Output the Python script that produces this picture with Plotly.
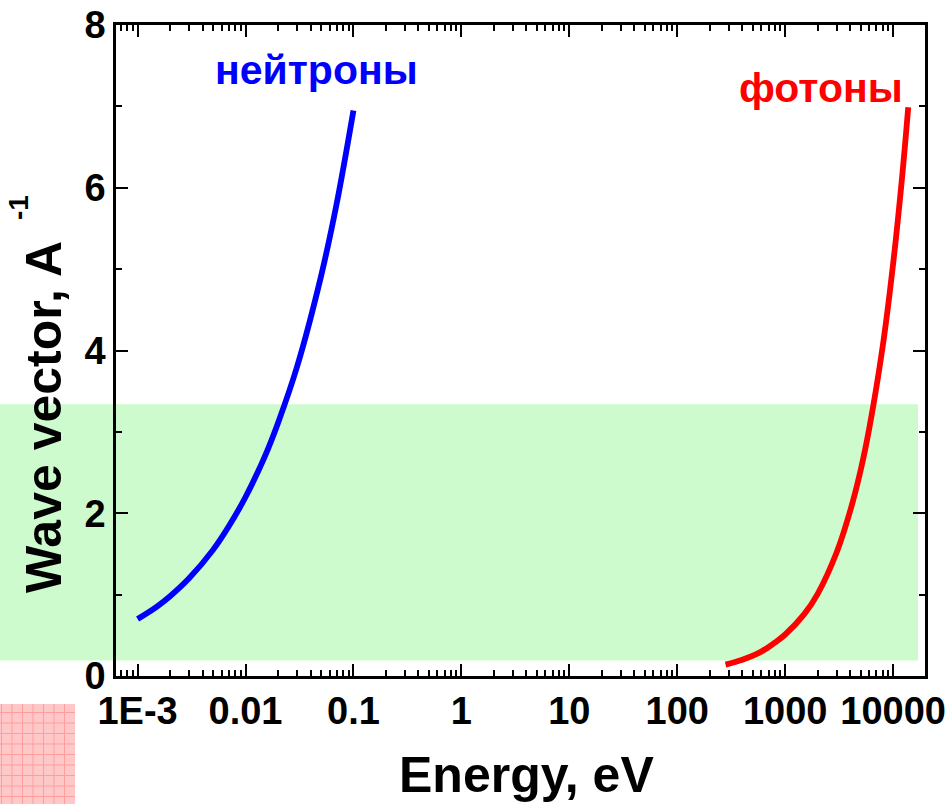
import plotly.graph_objects as go

# ---- data ----
neutron_E = [0.001, 0.0015, 0.002, 0.003, 0.005, 0.007, 0.01, 0.015, 0.02, 0.03, 0.05, 0.07, 0.1]
neutron_k = [0.70, 0.85, 0.98, 1.20, 1.55, 1.84, 2.20, 2.69, 3.11, 3.80, 4.91, 5.81, 6.95]

photon_E = [280, 400, 600, 800, 1000, 1500, 2000, 3000, 4000, 5000, 6000, 8000, 10000, 12000, 13800]
photon_k = [0.14, 0.20, 0.30, 0.41, 0.51, 0.76, 1.01, 1.52, 2.03, 2.53, 3.04, 4.05, 5.07, 6.08, 6.99]

x_tickvals = [1e-3, 1e-2, 1e-1, 1, 10, 100, 1000, 10000]
x_ticktext = ["1E-3", "0.01", "0.1", "1", "10", "100", "1000", "10000"]
y_tickvals = [0, 2, 4, 6, 8]
band_k = [0.19, 3.34]

x_minor = [m * 10 ** d for d in range(-4, 5) for m in range(2, 10)]
x_minor = [v for v in x_minor if 6.3e-4 < v < 1.97e4]
y_minor = [1, 3, 5, 7]

FONT = "Liberation Sans, Arial, sans-serif"

fig = go.Figure()
fig.add_trace(go.Scatter(x=neutron_E, y=neutron_k, mode="lines",
                         line=dict(color="#0000ff", width=5.8, shape="spline"),
                         showlegend=False))
fig.add_trace(go.Scatter(x=photon_E, y=photon_k, mode="lines",
                         line=dict(color="#ff0000", width=5.8, shape="spline"),
                         showlegend=False))

W, H = 948, 804
L, R, T, B = 116, 925, 25, 676
pw, ph = R - L, B - T

def px(xp):
    return (xp - L) / pw

def py(yp):
    return (B - yp) / ph

shapes = []
# green band
shapes.append(dict(type="rect", xref="paper", yref="y", x0=px(0), x1=px(918),
                   y0=band_k[0], y1=band_k[1], fillcolor="#cdfbcd",
                   line=dict(width=0), layer="below"))
# pink hatched square
shapes.append(dict(type="rect", xref="paper", yref="paper", x0=px(0), x1=px(75),
                   y0=py(804), y1=py(704), fillcolor="#ffc8c8",
                   line=dict(width=0), layer="below"))
gx = 1.5
while gx < 75:
    shapes.append(dict(type="line", xref="paper", yref="paper", x0=px(gx), x1=px(gx),
                       y0=py(804), y1=py(704), line=dict(color="#ff9d9d", width=1), layer="below"))
    gx += 10.5
gy = 712.5
while gy < 804:
    shapes.append(dict(type="line", xref="paper", yref="paper", x0=px(0), x1=px(75),
                       y0=py(gy), y1=py(gy), line=dict(color="#ff9d9d", width=1), layer="below"))
    gy += 10.5

annotations = [
    dict(text="<b>нейтроны</b>", xref="paper", yref="paper", x=px(316), y=py(70),
         showarrow=False, font=dict(family=FONT, size=41, color="#0000ff"),
         xanchor="center", yanchor="middle"),
    dict(text="<b>фотоны</b>", xref="paper", yref="paper", x=px(821), y=py(88),
         showarrow=False, font=dict(family=FONT, size=41, color="#ff0000"),
         xanchor="center", yanchor="middle"),
    dict(text="<b>Energy, eV</b>", xref="paper", yref="paper", x=px(526), y=py(775),
         showarrow=False, font=dict(family=FONT, size=50, color="black"),
         xanchor="center", yanchor="middle"),
    dict(text="<b>Wave vector, A</b>", xref="paper", yref="paper",
         x=px(44), y=py(417), textangle=-90,
         showarrow=False, font=dict(family=FONT, size=50, color="black"),
         xanchor="center", yanchor="middle"),
    dict(text="<b>-1</b>", xref="paper", yref="paper",
         x=px(18), y=py(208), textangle=-90,
         showarrow=False, font=dict(family=FONT, size=28, color="black"),
         xanchor="center", yanchor="middle"),
]

fig.update_layout(
    width=W, height=H,
    margin=dict(l=L, r=W - R, t=T, b=H - B, pad=0, autoexpand=False),
    paper_bgcolor="white", plot_bgcolor="rgba(0,0,0,0)",
    shapes=shapes, annotations=annotations,
    showlegend=False,
)
fig.update_xaxes(type="log", range=[-3.2, 4.295], automargin=False,
                 tickmode="array", tickvals=x_tickvals, ticktext=x_ticktext,
                 ticks="inside", ticklen=12, tickwidth=2, tickcolor="black",
                 showline=True, linewidth=2.5, linecolor="black", mirror="ticks",
                 showgrid=False, zeroline=False,
                 tickfont=dict(family=FONT, size=38, color="black", weight="bold"),
                 minor=dict(tickmode="array", tickvals=x_minor, ticks="inside",
                            ticklen=6, tickwidth=2, tickcolor="black", showgrid=False))
fig.update_yaxes(range=[0, 8], automargin=False,
                 tickmode="array", tickvals=y_tickvals,
                 ticks="inside", ticklen=12, tickwidth=2, tickcolor="black",
                 showline=True, linewidth=2.5, linecolor="black", mirror="ticks",
                 showgrid=False, zeroline=False,
                 tickfont=dict(family=FONT, size=38, color="black", weight="bold"),
                 minor=dict(tickmode="array", tickvals=y_minor, ticks="inside",
                            ticklen=6, tickwidth=2, tickcolor="black", showgrid=False))

fig.write_html("out.html")
